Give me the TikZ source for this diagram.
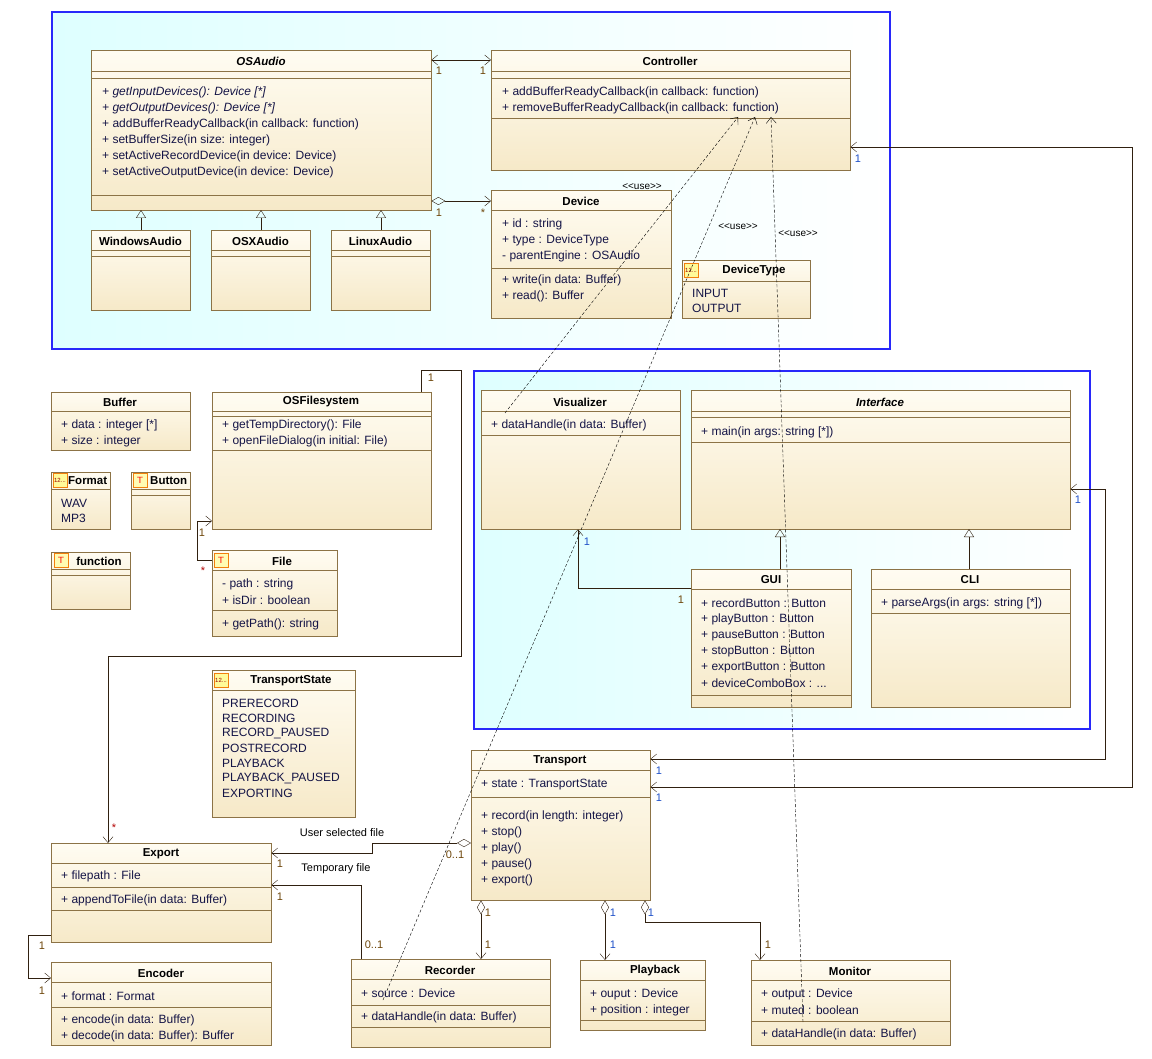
\documentclass[tikz,border=0pt]{standalone}
\usepackage{fontspec}
\setmainfont{Liberation Sans}
\usetikzlibrary{arrows.meta}
\definecolor{clsline}{RGB}{140,115,70}
\definecolor{clstop}{RGB}{255,252,242}
\definecolor{clsbot}{RGB}{246,233,200}
\definecolor{memtext}{RGB}{20,20,70}
\definecolor{pkgblue}{RGB}{40,40,250}
\definecolor{pkgcyan}{RGB}{222,255,255}
\definecolor{multblue}{RGB}{30,80,200}
\definecolor{multbrown}{RGB}{110,70,10}
\tikzset{
  cls/.style={draw=clsline,top color=clstop,bottom color=clsbot,anchor=north west,inner sep=0pt},
  pkg/.style={draw=pkgblue,line width=2.4pt,left color=pkgcyan,right color=white},
  ttl/.style={yshift=-1pt,font=\fontsize{11.5}{12}\selectfont\bfseries},
  mem/.style={anchor=west,inner sep=0pt,yshift=-1.5pt,text=memtext,font=\fontsize{12}{13}\selectfont},
  mult/.style={inner sep=0pt,text=multbrown,font=\fontsize{11}{12}\selectfont},
  bmult/.style={mult,text=multblue},
  lbl/.style={inner sep=0pt,font=\fontsize{11}{12}\selectfont},
  assoc/.style={draw=black!75!brown,-{Straight Barb[length=6pt,width=10pt]}},
  both/.style={draw=black!75!brown,{Straight Barb[length=6pt,width=10pt]}-{Straight Barb[length=6pt,width=10pt]}},
  agg/.style={draw=black!75!brown,{Diamond[open,length=14pt,width=8pt]}-{Straight Barb[length=6pt,width=10pt]}},
  inh/.style={draw=black!75!brown,-{Triangle[open,length=8pt,width=10pt]}},
  use/.style={draw=black,densely dashed,-{Straight Barb[length=6pt,width=10pt]}},
}
% box name, x, y, width, height
\newcommand\umlcls[5]{\node[cls,minimum width=#4pt,minimum height=#5pt] (#1) at (#2,#3) {};}
% separator: x1, x2, y
\newcommand\sep[3]{\draw[clsline] (#1,#3) -- (#2,#3);}
% icons: x, y
\newcommand\ticon[2]{\node[draw=orange!80!brown,fill=yellow!30,minimum size=14pt,inner sep=0pt,text=red,font=\sffamily\small] at (#1,#2) {T};}
\newcommand\eicon[2]{\node[draw=orange!80!brown,fill=yellow!40,minimum size=14pt,inner sep=0pt,text=red!60!black,font=\fontsize{6}{6}\selectfont] at (#1,#2) {12.{}.{}.};}

\begin{document}
\begin{tikzpicture}[x=1pt,y=-1pt]
\useasboundingbox (0,0) rectangle (1152,1059);

% packages
\draw[pkg] (52,12) rectangle (890,349);
\draw[pkg] (474,371) rectangle (1090,729);

% audio package
\umlcls{osaudio}{91}{50}{340}{160}
\node[ttl,font=\fontsize{11.5}{12}\selectfont\bfseries\itshape] at (261,60) {OSAudio};
\sep{91}{431}{71}\sep{91}{431}{78}\sep{91}{431}{195}
\node[mem] at (102,91) {\itshape + getInputDevices(): Device [*]};
\node[mem] at (102,107) {\itshape + getOutputDevices(): Device [*]};
\node[mem] at (102,123) {+ addBufferReadyCallback(in callback: function)};
\node[mem] at (102,139) {+ setBufferSize(in size: integer)};
\node[mem] at (102,155) {+ setActiveRecordDevice(in device: Device)};
\node[mem] at (102,171) {+ setActiveOutputDevice(in device: Device)};

\umlcls{controller}{491}{50}{359}{120}
\node[ttl] at (670,60) {Controller};
\sep{491}{850}{71}\sep{491}{850}{78}\sep{491}{850}{118}
\node[mem] at (502,91) {+ addBufferReadyCallback(in callback: function)};
\node[mem] at (502,107) {+ removeBufferReadyCallback(in callback: function)};

\umlcls{device}{491}{190}{180}{128}
\node[ttl] at (581,200) {Device};
\sep{491}{671}{210}\sep{491}{671}{268}
\node[mem] at (502,223) {+ id : string};
\node[mem] at (502,239) {+ type : DeviceType};
\node[mem] at (502,255) {- parentEngine : OSAudio};
\node[mem] at (502,279) {+ write(in data: Buffer)};
\node[mem] at (502,295) {+ read(): Buffer};

\foreach \nm/\x/\t in {winaudio/91/WindowsAudio,osxaudio/211/OSXAudio,linaudio/331/LinuxAudio}{
  \umlcls{\nm}{\x}{230}{99}{80}
  \node[ttl] at (\x+49.5,240) {\t};
  \sep{\x}{\x+99}{250}\sep{\x}{\x+99}{256}
  \draw[inh] (\x+50,230) -- (\x+50,210);
}

\umlcls{devicetype}{682}{260}{128}{58}
\eicon{691}{270}
\node[ttl] at (754,270) {DeviceType};
\sep{682}{810}{281}
\node[mem] at (692,292) {INPUT};
\node[mem] at (692,307) {OUTPUT};

% loose types
\umlcls{buffer}{51}{392}{139}{58}
\node[ttl] at (120,401) {Buffer};
\sep{51}{190}{411}
\node[mem] at (61,424) {+ data : integer [*]};
\node[mem] at (61,440) {+ size : integer};

\umlcls{osfs}{212}{392}{219}{137}
\node[ttl] at (321,401) {OSFilesystem};
\sep{212}{431}{411}\sep{212}{431}{416}\sep{212}{431}{450}
\node[mem] at (222,424) {+ getTempDirectory(): File};
\node[mem] at (222,440) {+ openFileDialog(in initial: File)};

\umlcls{format}{51}{472}{59}{57}
\eicon{60}{480}
\node[ttl,anchor=west,inner sep=0pt] at (68,480) {Format};
\sep{51}{110}{489}
\node[mem] at (61,502) {WAV};
\node[mem] at (61,517) {MP3};

\umlcls{button}{131}{472}{59}{57}
\ticon{140}{480}
\node[ttl,anchor=west,inner sep=0pt] at (150,480) {Button};
\sep{131}{190}{489}\sep{131}{190}{495}

\umlcls{function}{51}{552}{79}{57}
\ticon{61}{560}
\node[ttl] at (99,560) {function};
\sep{51}{130}{569}\sep{51}{130}{575}

\umlcls{file}{212}{550}{125}{86}
\ticon{221}{560}
\node[ttl] at (282,560) {File};
\sep{212}{337}{570}\sep{212}{337}{610}
\node[mem] at (222,583) {- path : string};
\node[mem] at (222,599) {+ isDir : boolean};
\node[mem] at (222,623) {+ getPath(): string};

\umlcls{tstate}{212}{670}{143}{147}
\eicon{221}{680}
\node[ttl] at (291,680) {TransportState};
\sep{212}{355}{690}
\foreach \v [count=\k from 0] in {PRERECORD,RECORDING,RECORD\_PAUSED,POSTRECORD,PLAYBACK,PLAYBACK\_PAUSED,EXPORTING}
  \node[mem] at (222,702+15*\k) {\v};

% interface package
\umlcls{visualizer}{481}{390}{199}{139}
\node[ttl] at (580,401) {Visualizer};
\sep{481}{680}{411}\sep{481}{680}{435}
\node[mem] at (491,424) {+ dataHandle(in data: Buffer)};

\umlcls{interface}{691}{390}{379}{139}
\node[ttl,font=\fontsize{11.5}{12}\selectfont\bfseries\itshape] at (880,401) {Interface};
\sep{691}{1070}{411}\sep{691}{1070}{417}\sep{691}{1070}{442}
\node[mem] at (701,431) {+ main(in args: string [*])};

\umlcls{gui}{691}{569}{160}{138}
\node[ttl] at (771,579) {GUI};
\sep{691}{851}{589}\sep{691}{851}{695}
\foreach \v [count=\k from 0] in {recordButton : Button,playButton : Button,pauseButton : Button,stopButton : Button,exportButton : Button,deviceComboBox : .{}.{}.}
  \node[mem] at (701,602+16*\k) {+ \v};

\umlcls{cli}{871}{569}{199}{138}
\node[ttl] at (970,579) {CLI};
\sep{871}{1070}{589}\sep{871}{1070}{613}
\node[mem] at (881,602) {+ parseArgs(in args: string [*])};

\draw[inh] (780,569) -- (780,529);
\draw[inh] (969,569) -- (969,529);

% transport side
\umlcls{transport}{471}{750}{179}{150}
\node[ttl] at (560,760) {Transport};
\sep{471}{650}{770}\sep{471}{650}{797}
\node[mem] at (481,783) {+ state : TransportState};
\foreach \v [count=\k from 0] in {record(in length: integer),stop(),play(),pause(),export()}
  \node[mem] at (481,815+16*\k) {+ \v};

\umlcls{export}{51}{843}{220}{99}
\node[ttl] at (161,853) {Export};
\sep{51}{271}{863}\sep{51}{271}{887}\sep{51}{271}{910}
\node[mem] at (61,875) {+ filepath : File};
\node[mem] at (61,899) {+ appendToFile(in data: Buffer)};

\umlcls{encoder}{51}{962}{220}{83}
\node[ttl] at (161,972) {Encoder};
\sep{51}{271}{982}\sep{51}{271}{1007}
\node[mem] at (61,995) {+ format : Format};
\node[mem] at (61,1019) {+ encode(in data: Buffer)};
\node[mem] at (61,1035) {+ decode(in data: Buffer): Buffer};

\umlcls{recorder}{351}{959}{199}{88}
\node[ttl] at (450,969) {Recorder};
\sep{351}{550}{979}\sep{351}{550}{1005}\sep{351}{550}{1027}
\node[mem] at (361,992) {+ source : Device};
\node[mem] at (361,1016) {+ dataHandle(in data: Buffer)};

\umlcls{playback}{580}{960}{125}{70}
\node[ttl] at (655,970) {Playback};
\sep{580}{705}{980}\sep{580}{705}{1020}
\node[mem] at (590,993) {+ ouput : Device};
\node[mem] at (590,1009) {+ position : integer};

\umlcls{monitor}{751}{960}{199}{85}
\node[ttl] at (850,970) {Monitor};
\sep{751}{950}{980}\sep{751}{950}{1021}
\node[mem] at (761,993) {+ output : Device};
\node[mem] at (761,1009) {+ muted : boolean};
\node[mem] at (761,1033) {+ dataHandle(in data: Buffer)};

% associations
\draw[both] (osaudio.north east |- 0,60) -- (controller.north west |- 0,60);
\node[mult] at (439,71) {1};\node[mult] at (483,71) {1};
\draw[agg] (osaudio.south east |- 0,201) -- (device.north west |- 0,201);
\node[mult] at (439,213) {1};\node[mult] at (483,213) {*};

\coordinate (c1) at (1132,147);\coordinate (c2) at (1132,787);
\draw[both] (controller.south east |- c1) -- (c1) -- (c2) -- (transport.north east |- c2);
\node[bmult] at (858,159) {1};\node[bmult] at (659,798) {1};

\coordinate (i1) at (1105,489);\coordinate (i2) at (1105,759);
\draw[both] (interface.north east |- i1) -- (i1) -- (i2) -- (transport.north east |- i2);
\node[bmult] at (1078,500) {1};\node[bmult] at (659,771) {1};

\coordinate (v1) at (578,588);
\draw[assoc] (gui.north west |- v1) -- (v1) -- (visualizer.south west -| v1);
\node[bmult] at (587,542) {1};\node[mult] at (681,600) {1};

\coordinate (f1) at (197,560);\coordinate (f2) at (197,521);
\draw[assoc] (file.north west |- f1) -- (f1) -- (f2) -- (osfs.north west |- f2);
\node[mult] at (202,533) {1};\node[mult,text=red!70!black] at (203,571) {*};

\coordinate (e1) at (421,370);\coordinate (e2) at (461,370);
\coordinate (e3) at (461,656);\coordinate (e4) at (108,656);
\draw[assoc] (osfs.north west -| e1) -- (e1) -- (e2) -- (e3) -- (e4) -- (export.north west -| e4);
\node[mult] at (431,378) {1};\node[mult,text=red!70!black] at (114,828) {*};

\coordinate (u1) at (372,843);\coordinate (u2) at (372,853);
\draw[agg] (transport.north west |- u1) -- (u1) -- (u2) -- (export.north east |- u2);
\node[lbl] at (342,833) {User selected file};
\node[mult] at (455,855) {0..1};\node[mult] at (280,864) {1};

\coordinate (t1) at (361,885);
\draw[assoc] (recorder.north west -| t1) -- (t1) -- (export.north east |- t1);
\node[lbl] at (336,869) {Temporary file};
\node[mult] at (374,945) {0..1};\node[mult] at (280,897) {1};

\coordinate (n1) at (28,935);\coordinate (n2) at (28,978);
\draw[assoc] (export.north west |- n1) -- (n1) -- (n2) -- (encoder.north west |- n2);
\node[mult] at (42,946) {1};\node[mult] at (42,991) {1};

\draw[agg] (transport.south west -| 481,0) -- (recorder.north west -| 481,0);
\node[mult] at (488,913) {1};\node[mult] at (488,945) {1};
\draw[agg] (transport.south west -| 605,0) -- (playback.north west -| 605,0);
\node[bmult] at (613,913) {1};\node[bmult] at (613,945) {1};
\coordinate (m1) at (645,922);\coordinate (m2) at (760,922);
\draw[agg] (transport.south west -| m1) -- (m1) -- (m2) -- (monitor.north west -| m2);
\node[bmult] at (651,913) {1};\node[mult] at (768,945) {1};

% use dependencies
\coordinate (d1) at (505,413);\coordinate (d2) at (383,1000);\coordinate (d3) at (803,1022);
\draw[use] (d1) -- (738,117);
\draw[use] (d2) -- (755,117);
\draw[use] (d3) -- (771,117);
\node[lbl,font=\fontsize{10}{10}\selectfont] at (642,187) {<{}<use>{}>};
\node[lbl,font=\fontsize{10}{10}\selectfont] at (738,227) {<{}<use>{}>};
\node[lbl,font=\fontsize{10}{10}\selectfont] at (798,234) {<{}<use>{}>};
\end{tikzpicture}
\end{document}
